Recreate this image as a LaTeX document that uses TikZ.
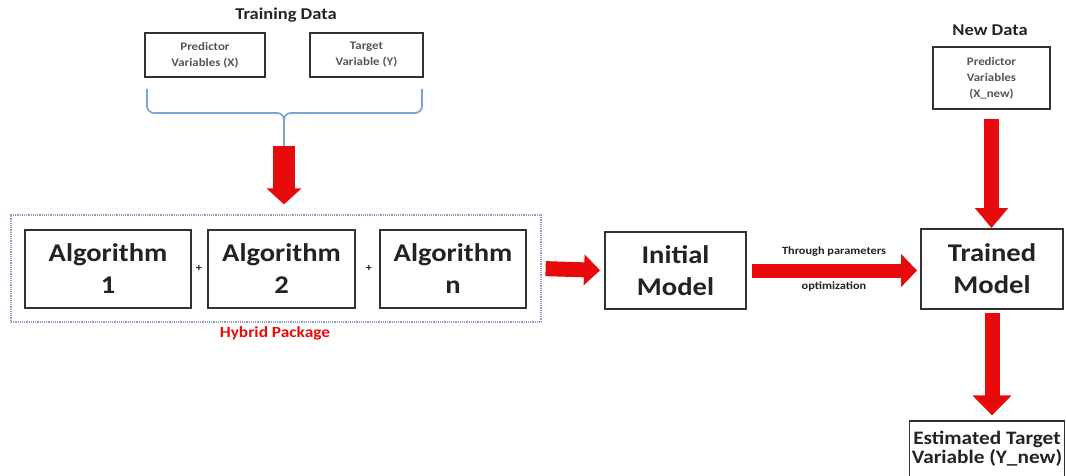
\documentclass[tikz,border=0pt]{standalone}
\usepackage{fontspec}
\setmainfont{Carlito}[FakeStretch=1.12]
\usetikzlibrary{arrows.meta}
\definecolor{redarr}{RGB}{232,10,10}
\definecolor{bracec}{RGB}{125,165,210}
\definecolor{dotc}{RGB}{140,160,190}
\definecolor{boxc}{RGB}{50,50,50}
\definecolor{txtc}{RGB}{35,35,35}
\definecolor{smallc}{RGB}{85,85,85}
\tikzset{
  bigbox/.style={draw=boxc, line width=1.8pt, inner sep=0pt, align=center, text=txtc,
    font=\bfseries\fontsize{25.5}{32}\selectfont},
  smallbox/.style={draw=boxc, line width=1.3pt, inner sep=0pt, align=center, text=smallc,
    font=\bfseries\fontsize{11.5}{16}\selectfont},
  heading/.style={inner sep=0pt, text=txtc, font=\bfseries\fontsize{16.5}{18}\selectfont},
  midlabel/.style={inner sep=0pt, text=txtc, font=\bfseries\fontsize{11}{12}\selectfont}
}
\begin{document}
\begin{tikzpicture}[x=1pt,y=-1pt]
\useasboundingbox (0,0) rectangle (1066,476);
% training data
\node[heading] (td) at (286,15) {Training Data};
\node[smallbox, minimum width=120pt, minimum height=44pt] (px) at (205,55) {Predictor\\Variables (X)};
\node[smallbox, minimum width=113pt, minimum height=44pt] (ty) at (366.5,55) {Target\\Variable (Y)};
% brace
\coordinate (bl) at (147,89);
\coordinate (br) at (422,89);
\coordinate (bm) at (284,113);
\coordinate (bs) at (284,146);
\draw[bracec, line width=1.8pt, rounded corners=7pt] (bl) -- (bl |- bm) -- (bm) -- (bs);
\draw[bracec, line width=1.8pt, rounded corners=7pt] (br) -- (br |- bm) -- (bm) -- (bs);
% hybrid package
\node[draw=dotc, densely dotted, line width=1.2pt, minimum width=530pt, minimum height=107pt] (hyb) at (276,268.5) {};
\node[bigbox, minimum width=166pt, minimum height=78pt] (a1) at (108,269) {Algorithm\\1};
\node[bigbox, minimum width=147pt, minimum height=78pt] (a2) at (281.5,269) {Algorithm\\2};
\node[bigbox, minimum width=146pt, minimum height=78pt] (an) at (453,269) {Algorithm\\n};
\node[midlabel] (p1) at (199,268) {+};
\node[midlabel] (p2) at (369,268) {+};
\node[inner sep=0pt, text=redarr, font=\bfseries\fontsize{15.5}{16}\selectfont] (hp) at (275,333) {Hybrid Package};
% models
\node[bigbox, minimum width=141pt, minimum height=77pt] (im) at (675.5,270.5) {Initial\\Model};
\node[bigbox, minimum width=142pt, minimum height=80pt] (tm) at (992,269) {Trained\\Model};
\node[midlabel] (lt) at (834,252) {Through parameters};
\node[midlabel] (lb) at (834,286) {optimization};
% new data
\node[heading] (nd) at (990,30) {New Data};
\node[smallbox, minimum width=117pt, minimum height=62pt] (xn) at (991.5,78) {Predictor\\Variables\\(X\_new)};
\node[draw=boxc, line width=1.3pt, inner sep=0pt, align=center, text=txtc,
  font=\bfseries\fontsize{19}{19.5}\selectfont, minimum width=155pt, minimum height=56pt] (et) at (987,449) {Estimated Target\\Variable (Y\_new)};
% arrows
\draw[redarr, line width=22pt, -{Triangle[width=34pt,length=16pt]}, shorten >=10pt] (bs) -- (bs |- hyb.north);
\draw[redarr, line width=15pt, -{Triangle[width=30pt,length=16pt]}, shorten <=4pt, shorten >=4pt] (hyb.east) -- (im.west);
\draw[redarr, line width=14pt, -{Triangle[width=32pt,length=16pt]}, shorten <=5pt, shorten >=3pt] (im.east) -- (im.east -| tm.west);
\draw[redarr, line width=15pt, -{Triangle[width=32pt,length=20pt]}, shorten <=9pt, shorten >=0pt] (xn.south) -- (xn.south |- tm.north);
\draw[redarr, line width=15pt, -{Triangle[width=38pt,length=20pt]}, shorten <=3pt, shorten >=5pt] (tm.south) -- (tm.south |- et.north);
\end{tikzpicture}
\end{document}
